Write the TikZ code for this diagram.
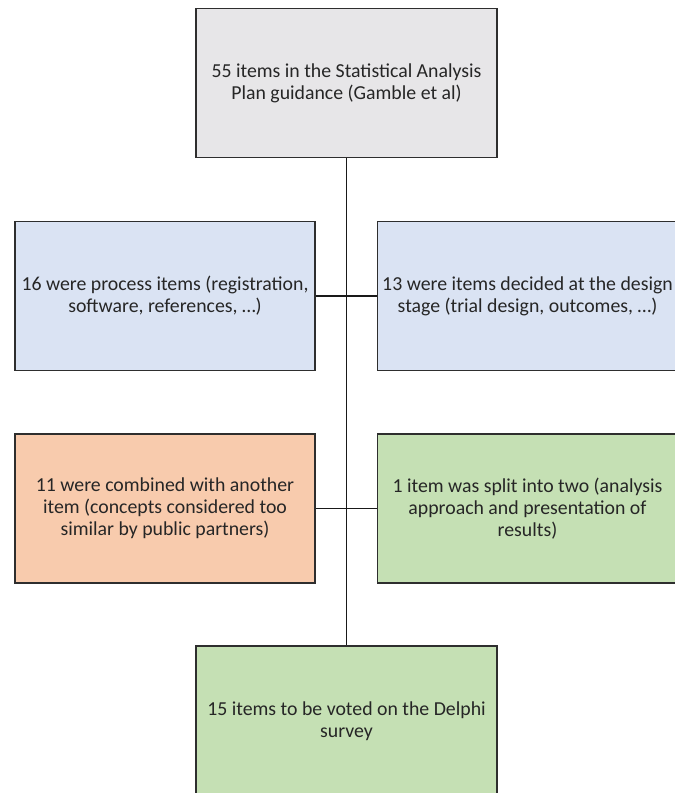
\documentclass[tikz,border=0pt]{standalone}
\usepackage{fontspec}
\setmainfont{Carlito}
\usetikzlibrary{positioning}

\definecolor{boxgray}{HTML}{E7E6E8}
\definecolor{boxblue}{HTML}{DAE3F3}
\definecolor{boxorange}{HTML}{F8CBAD}
\definecolor{boxgreen}{HTML}{C5E0B4}
\definecolor{edgegray}{HTML}{2E2E2E}

\begin{document}
\begin{tikzpicture}[x=1pt, y=-1pt, font=\fontsize{19.8}{22}\selectfont,
  itembox/.style={draw=edgegray, line width=1.8pt, rectangle, minimum width=300pt, minimum height=149pt, align=center, text=black!85, inner sep=0pt},
  link/.style={draw=black!90, line width=1.6pt}]

\useasboundingbox (0, 0) rectangle (675, 793);

\clip (0, 0) rectangle (675, 793);

\node[itembox, fill=boxgray, minimum width=301pt] (sap) at (346.5, 83) {55 items in the Statistical Analysis\\Plan guidance (Gamble et al)};

\node[itembox, fill=boxblue] (process) at (165, 296) {16 were process items (registration,\\software, references, \dots)};

\node[itembox, fill=boxblue] (design) at (527.5, 296) {13 were items decided at the design\\stage (trial design, outcomes, \dots)};

\node[itembox, fill=boxorange] (combined) at (165, 508.5) {11 were combined with another\\item (concepts considered too\\similar by public partners)};

\node[itembox, fill=boxgreen] (split) at (527.5, 508.5) {1 item was split into two (analysis\\approach and presentation of\\results)};

\node[itembox, fill=boxgreen, minimum width=301pt, minimum height=150pt] (delphi) at (346.5, 721) {15 items to be voted on the Delphi\\survey};

\draw[link] (sap.south) -- (delphi.north);

\draw[link] (process.east) -- (design.west);

\draw[link] (combined.east) -- (split.west);

\end{tikzpicture}
\end{document}
